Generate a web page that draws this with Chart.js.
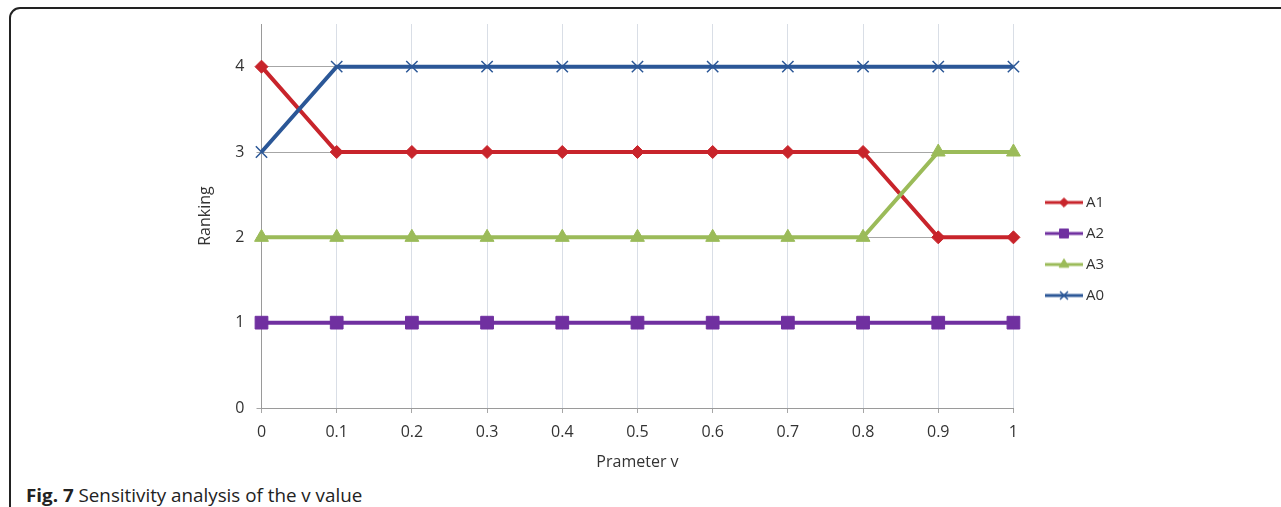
<!DOCTYPE html>
<html lang="en">
<head>
<meta charset="UTF-8" />
<title>Sensitivity analysis of the v value</title>
<style>
    body {
        margin: 0;
        background: #fff;
        width: 1281px;
        height: 507px;
        overflow: hidden;
        position: relative;
        font-family: 'Open Sans', sans-serif;
    }
    #frame {
        position: absolute;
        left: 9px;
        top: 7px;
        width: 1400px;
        height: 600px;
        border: 2px solid #222;
        border-top-left-radius: 11px;
        box-sizing: border-box;
    }
    #chart {
        position: absolute;
        left: 0;
        top: 0;
    }
    #caption {
        position: absolute;
        left: 26px;
        top: 484px;
        font-size: 18px;
        line-height: 22px;
        color: #222;
        white-space: nowrap;
        transform-origin: left top;
    }
</style>
</head>
<body>
<div id="frame"></div>
<canvas id="chart" width="1281" height="474"></canvas>
<div id="caption"><b>Fig. 7</b> Sensitivity analysis of the v value</div>

<script src="https://cdn.jsdelivr.net/npm/chart.js@4.4.1/dist/chart.umd.min.js"></script>
<script>
    // data
    const categories = ['0', '0.1', '0.2', '0.3', '0.4', '0.5', '0.6', '0.7', '0.8', '0.9', '1'];
    const seriesA1 = [4, 3, 3, 3, 3, 3, 3, 3, 3, 2, 2];
    const seriesA2 = [1, 1, 1, 1, 1, 1, 1, 1, 1, 1, 1];
    const seriesA3 = [2, 2, 2, 2, 2, 2, 2, 2, 2, 3, 3];
    const seriesA0 = [3, 4, 4, 4, 4, 4, 4, 4, 4, 4, 4];
    const yTicks = [0, 1, 2, 3, 4];

    const FONT = "'Open Sans', sans-serif";
    const TEXT = '#333';
    Chart.defaults.font.family = FONT;

    // legend icon: short line with the marker in the middle
    function legendIcon(color, style, radius, bw) {
        const c = document.createElement('canvas');
        c.width = 60;
        c.height = 20;
        const ctx = c.getContext('2d');
        ctx.strokeStyle = color;
        ctx.fillStyle = color;
        ctx.lineWidth = 3;
        ctx.beginPath();
        ctx.moveTo(21, 10);
        ctx.lineTo(59, 10);
        ctx.stroke();
        ctx.lineWidth = bw;
        Chart.helpers.drawPoint(ctx, { pointStyle: style, radius: radius, borderWidth: bw, rotation: 0 }, 40, 10);
        return c;
    }

    function series(label, data, color, style, radius, order, bw) {
        return {
            label: label,
            data: data,
            borderColor: color,
            backgroundColor: color,
            borderWidth: 4,
            pointStyle: style,
            pointRadius: radius,
            pointBorderWidth: bw,
            pointBackgroundColor: color,
            pointBorderColor: color,
            tension: 0,
            clip: false,
            order: order,
            icon: legendIcon(color, style, radius * 0.7, bw)
        };
    }

    const datasets = [
        series('A1', seriesA1, '#c8242b', 'rectRot', 6.5, 3, 1),
        series('A2', seriesA2, '#7030a0', 'rect', 9, 2, 1),
        series('A3', seriesA3, '#9bbb59', 'triangle', 8, 1, 1),
        series('A0', seriesA0, '#2b5797', 'crossRot', 8, 0, 1.5)
    ];

    new Chart(document.getElementById('chart'), {
        type: 'line',
        data: { labels: categories, datasets: datasets },
        options: {
            responsive: false,
            animation: false,
            devicePixelRatio: 1,
            events: [],
            layout: { padding: { left: 180, top: 24, right: 167, bottom: 0 } },
            plugins: {
                tooltip: { enabled: false },
                legend: {
                    position: 'right',
                    labels: {
                        usePointStyle: true,
                        pointStyleWidth: 49,
                        padding: 16,
                        color: TEXT,
                        font: { size: 15, family: FONT },
                        generateLabels: (chart) => chart.data.datasets.map((ds, i) => ({
                            text: ds.label,
                            pointStyle: ds.icon,
                            fontColor: TEXT,
                            fillStyle: ds.borderColor,
                            strokeStyle: ds.borderColor,
                            lineWidth: 0,
                            hidden: false,
                            datasetIndex: i
                        }))
                    }
                }
            },
            scales: {
                x: {
                    offset: false,
                    grid: { color: '#d9dee6', tickLength: 5, tickColor: '#a6a6a6' },
                    border: { color: '#9a9a9a' },
                    ticks: { color: TEXT, font: { size: 16 }, padding: 10, maxRotation: 0, autoSkip: false },
                    title: { display: true, text: 'Prameter v', color: TEXT, font: { size: 16 }, padding: { top: 0, bottom: 2 } },
                    afterFit: (s) => { s.height = 66; }
                },
                y: {
                    min: 0,
                    max: 4.5,
                    afterBuildTicks: (s) => { s.ticks = yTicks.map(v => ({ value: v })); },
                    grid: { color: '#a6a6a6', tickLength: 5 },
                    border: { color: '#9a9a9a' },
                    ticks: { color: TEXT, font: { size: 16 }, padding: 12 },
                    title: { display: true, text: 'Ranking', color: TEXT, font: { size: 16 }, padding: { top: 16, bottom: 0 } },
                    afterFit: (s) => { s.width = 81.5; }
                }
            }
        }
    });

    // squeeze the caption to the width it has in the figure
    const cap = document.getElementById('caption');
    cap.style.transform = 'scaleX(' + (336 / cap.offsetWidth) + ')';
</script>
</body>
</html>
